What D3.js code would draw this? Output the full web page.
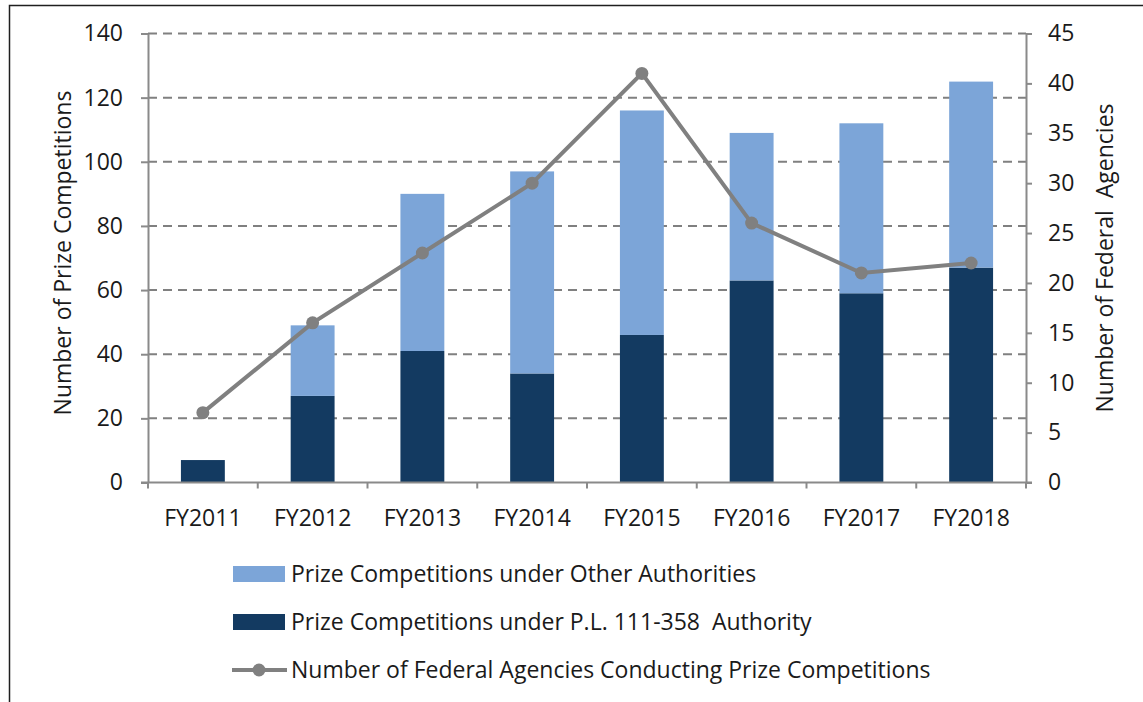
<!DOCTYPE html>
<html>
<head>
<meta charset="utf-8">
<script src="https://cdn.jsdelivr.net/npm/d3@7"></script>
<style>
  body { margin: 0; background: #fff; }
  svg text { font-family: "Open Sans", Lato, sans-serif; fill: #1a1a1a; font-variant-ligatures: none; }
</style>
</head>
<body>
<svg id="chart" width="1143" height="702"></svg>
<script>
/* ---------- data ---------------------------------------------- */
const years      = ["FY2011","FY2012","FY2013","FY2014","FY2015","FY2016","FY2017","FY2018"];
const plAuthority = [7, 27, 41, 34, 46, 63, 59, 67];        // dark segment
const otherAuth   = [0, 22, 49, 63, 70, 46, 53, 58];        // light segment (total - dark)
const agencies    = [7, 16, 23, 30, 41, 26, 21, 22];        // line, right axis
const leftTicks   = [0, 20, 40, 60, 80, 100, 120, 140];
const rightTicks  = [0, 5, 10, 15, 20, 25, 30, 35, 40, 45];

const lightBlue = "#7ca5d8", darkBlue = "#133a61", grey = "#808080", axisGrey = "#8a8a8a";
const fs = 23;

const svg = d3.select("#chart");

/* ---------- frame --------------------------------------------- */
svg.append("path")
   .attr("d", "M9.5,702 V5.5 H1143")
   .attr("fill", "none").attr("stroke", "#1f1f1f").attr("stroke-width", 1.5);

/* ---------- scales -------------------------------------------- */
const x  = d3.scaleBand().domain(years).range([148, 1026]).paddingInner(0.6).paddingOuter(0.3);
const xb = d3.scaleBand().domain(years).range([148, 1026]);   // category slots for ticks
const yL = d3.scaleLinear().domain([0, 140]).range([482.5, 33.5]);
const yR = d3.scaleLinear().domain([0, 45]).range([482.5, 33.5]);

/* ---------- gridlines ------------------------------------------ */
svg.append("g")
  .selectAll("line")
  .data(leftTicks.filter(d => d > 0))
  .join("line")
    .attr("x1", 148).attr("x2", 1026)
    .attr("y1", d => yL(d)).attr("y2", d => yL(d))
    .attr("stroke", grey).attr("stroke-width", 2)
    .attr("stroke-dasharray", "9,6");

/* ---------- stacked bars -------------------------------------- */
const rows = years.map((y, i) => ({year: y, pl: plAuthority[i], other: otherAuth[i]}));
const stack = d3.stack().keys(["pl", "other"])(rows);
svg.append("g")
  .selectAll("g")
  .data(stack)
  .join("g")
    .attr("fill", d => d.key === "pl" ? darkBlue : lightBlue)
  .selectAll("rect")
  .data(d => d)
  .join("rect")
    .attr("x", d => x(d.data.year))
    .attr("width", x.bandwidth())
    .attr("y", d => yL(d[1]))
    .attr("height", d => yL(d[0]) - yL(d[1]));

/* ---------- axes ---------------------------------------------- */
const styleAxis = g => {
  g.select(".domain").attr("stroke", axisGrey).attr("stroke-width", 2);
  g.selectAll(".tick line").attr("stroke", axisGrey).attr("stroke-width", 2);
  g.selectAll("text").attr("font-size", fs).attr("font-family", null).attr("fill", "#1a1a1a");
};

svg.append("g")
  .attr("transform", "translate(148,0)")
  .call(d3.axisLeft(yL).tickValues(leftTicks).tickSize(7).tickPadding(18).tickSizeOuter(0))
  .call(styleAxis);

svg.append("g")
  .attr("transform", "translate(1026,0)")
  .call(d3.axisRight(yR).tickValues(rightTicks).tickSize(6).tickPadding(16).tickSizeOuter(0))
  .call(styleAxis);

// x axis: ticks at category boundaries, labels at centres
const xAxisG = svg.append("g").attr("transform", `translate(0,${yL(0)})`);
xAxisG.append("line")
  .attr("x1", 141).attr("x2", 1032)
  .attr("stroke", axisGrey).attr("stroke-width", 2);
xAxisG.selectAll("line.tk")
  .data([...years.map(d => xb(d)), 1026])
  .join("line").attr("class", "tk")
    .attr("x1", d => d).attr("x2", d => d)
    .attr("y1", 0).attr("y2", 6)
    .attr("stroke", axisGrey).attr("stroke-width", 2);
xAxisG.selectAll("text")
  .data(years)
  .join("text")
    .attr("x", d => xb(d) + xb.bandwidth() / 2)
    .attr("y", 43)
    .attr("text-anchor", "middle")
    .attr("font-size", fs)
    .text(d => d);

/* ---------- line + markers ------------------------------------ */
const cx = d => xb(d) + xb.bandwidth() / 2;
svg.append("path")
  .datum(years.map((d, i) => [cx(d), yR(agencies[i])]))
  .attr("d", d3.line())
  .attr("fill", "none").attr("stroke", grey).attr("stroke-width", 4);
svg.append("g")
  .selectAll("circle")
  .data(years)
  .join("circle")
    .attr("cx", cx)
    .attr("cy", (d, i) => yR(agencies[i]))
    .attr("r", 6.5)
    .attr("fill", grey);

/* ---------- axis titles --------------------------------------- */
svg.append("text")
  .attr("transform", "translate(71,253) rotate(-90)")
  .attr("text-anchor", "middle")
  .attr("font-size", fs)
  .text("Number of Prize Competitions");
svg.append("text")
  .attr("transform", "translate(1113,258) rotate(-90)")
  .attr("text-anchor", "middle")
  .attr("font-size", fs)
  .style("white-space", "pre")
  .text("Number of Federal  Agencies");

/* ---------- legend -------------------------------------------- */
const legendItems = [
  {label: "Prize Competitions under Other Authorities", type: "bar", colour: lightBlue},
  {label: "Prize Competitions under P.L. 111-358  Authority", type: "bar", colour: darkBlue},
  {label: "Number of Federal Agencies Conducting Prize Competitions", type: "line", colour: grey}
];
const lg = svg.append("g").attr("transform", "translate(233,574)");
const li = lg.selectAll("g").data(legendItems).join("g")
  .attr("transform", (d, i) => `translate(0,${i * 48})`);
li.filter(d => d.type === "bar").append("rect")
  .attr("x", 0).attr("y", -8).attr("width", 52).attr("height", 16)
  .attr("fill", d => d.colour);
li.filter(d => d.type === "line").append("line")
  .attr("x1", -1).attr("x2", 54).attr("y1", 0).attr("y2", 0)
  .attr("stroke", grey).attr("stroke-width", 4);
li.filter(d => d.type === "line").append("circle")
  .attr("cx", 26).attr("cy", 0).attr("r", 6.5).attr("fill", grey);
li.append("text")
  .attr("x", 58).attr("y", 0).attr("dy", "0.35em")
  .attr("font-size", fs)
  .style("white-space", "pre")
  .text(d => d.label);
</script>
</body>
</html>
